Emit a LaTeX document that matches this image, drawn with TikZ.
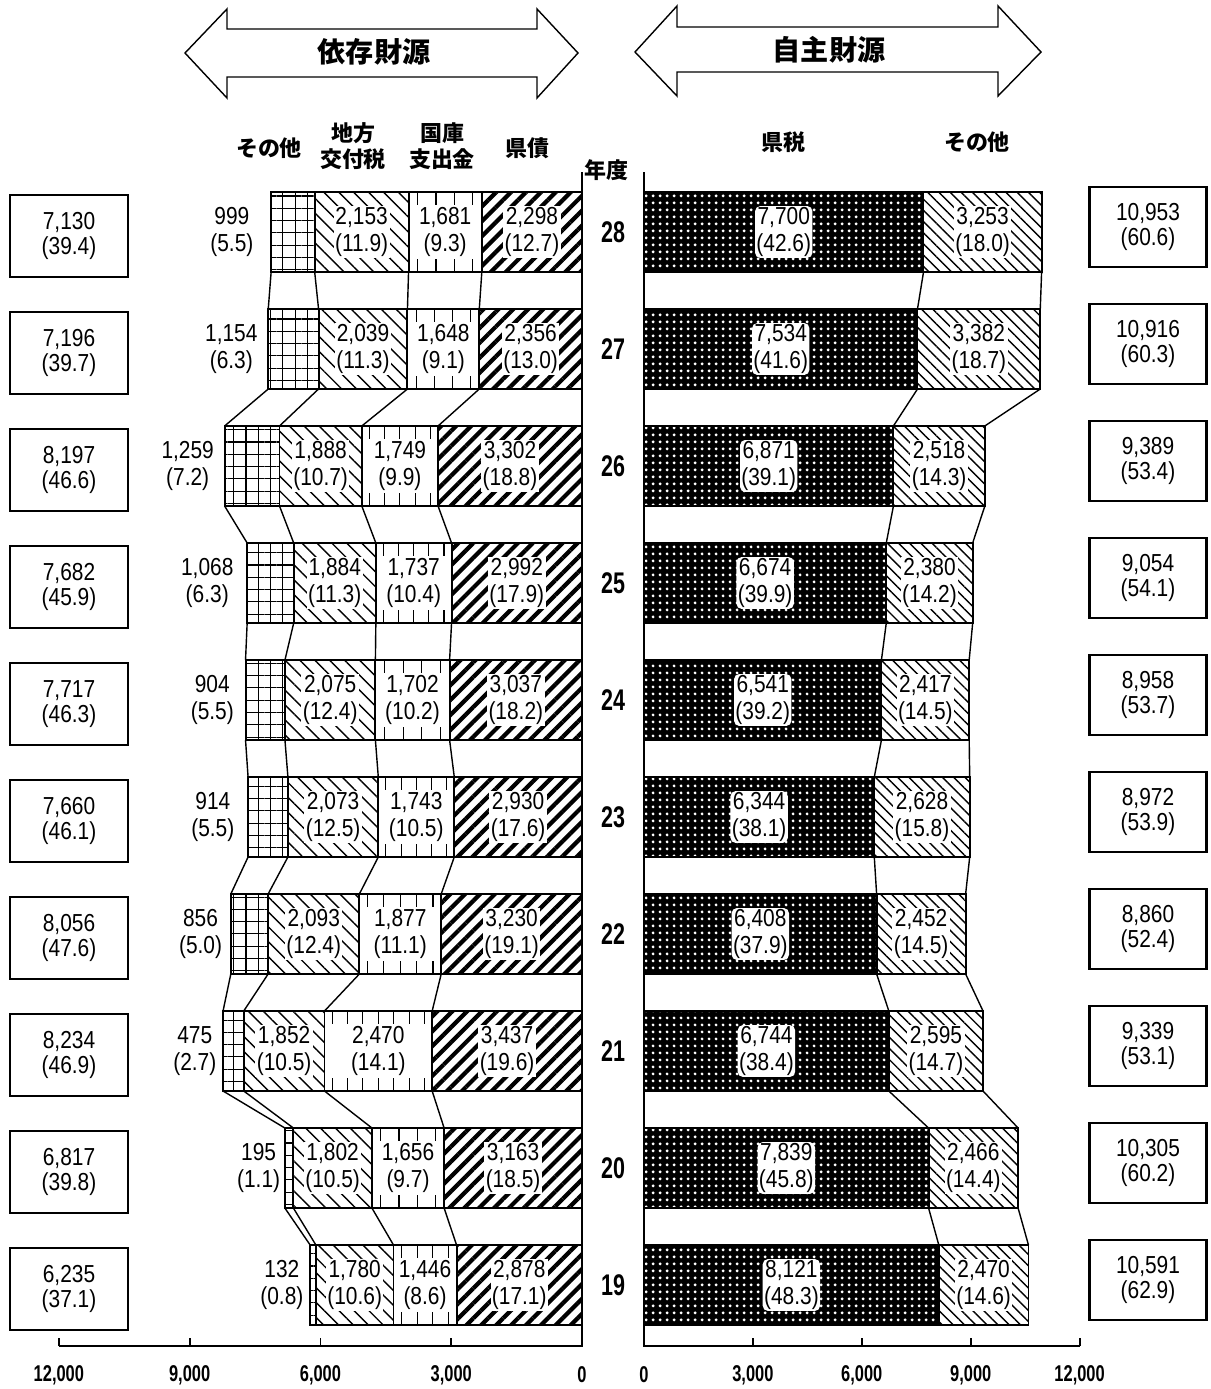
\documentclass[tikz,border=0pt]{standalone}
\usepackage{fontspec}
\setmainfont{Liberation Sans}[FakeStretch=0.85]
\newfontfamily\jp{Noto Sans CJK JP}
\newfontfamily\numfont{Liberation Sans}[FakeStretch=0.72]
\usetikzlibrary{calc}
\usetikzlibrary{patterns,patterns.meta}

\pgfkeys{/pgf/number format/.cd,1000 sep={,},assume math mode=true}
\newcommand\pct[1]{(\pgfmathprintnumber[fixed,fixed zerofill,precision=1]{#1})}
\newcommand\segfont{\fontsize{14}{15.3}\selectfont}
\newcommand\totfont{\fontsize{14}{14.5}\selectfont}

\tikzset{
  kensai/.style={pattern={Lines[angle=45,distance=6pt,line width=2.4pt]}},
  koufu/.style={pattern={Lines[angle=-45,distance=6pt,line width=0.8pt]}},
  sonota/.style={pattern={Hatch[angle=0,distance=7pt,line width=0.6pt]}},
  kenzei/.style={preaction={fill=black},pattern={Dots[distance=4pt,radius=1pt]},pattern color=white},
  jishu/.style={pattern={Lines[angle=-45,distance=4.5pt,line width=0.8pt]}},
  bar/.style={draw=black,line width=1.1pt},
  seg/.style={fill=white,inner sep=0.8pt,align=center,font=\segfont},
  totbox/.style={draw=black,line width=1.3pt,align=center,minimum width=2.36cm,minimum height=1.64cm,font=\totfont},
  joinline/.style={line width=0.8pt},
  colhead/.style={align=center,font=\jp\bfseries\fontsize{12.5}{15}\selectfont},
}

\def\lzero{582}
\def\rzero{644}
\def\lscale{0.0436}
\def\rscale{0.0363}

\begin{document}
\begin{tikzpicture}[x=0.02cm,y=-0.02cm]
\useasboundingbox (0,0) rectangle (1210,1389);

% headings
\draw[line width=0.8pt] (185,53) -- (227,9) -- (227,29) -- (537,29) -- (537,9) -- (578,53)
  -- (537,98) -- (537,77) -- (227,77) -- (227,98) -- cycle;
\node[font=\jp\bfseries\fontsize{16}{18}\selectfont] (izon) at (374,52) {依存財源};
\draw[line width=0.8pt] (635,52) -- (677,6) -- (677,27) -- (998,27) -- (998,6) -- (1041,52)
  -- (998,96) -- (998,72) -- (677,72) -- (677,96) -- cycle;
\node[font=\jp\bfseries\fontsize{16}{18}\selectfont] (jishu) at (829,50) {自主財源};

\node[colhead] (hsonota) at (269,148) {その他};
\node[colhead] (hkoufu) at (353,146) {地方\\交付税};
\node[colhead] (hkokko) at (442,146) {国庫\\支出金};
\node[colhead] (hkensai) at (527,148) {県債};
\node[colhead] (hnendo) at (606,170) {年度};
\node[colhead] (hkenzei) at (783,142) {県税};
\node[colhead] (hjishu) at (977,142) {その他};

% axes
\draw[line width=1pt] (\lzero,172) -- (\lzero,1346) -- ({\lzero-\lscale*12000},1346);
\draw[line width=1pt] (\rzero,172) -- (\rzero,1346) -- ({\rzero+\rscale*12000},1346);
\foreach \v in {0,3000,...,12000} {
  \draw[line width=1pt] ({\lzero-\lscale*\v},1346) -- ++(0,-8);
  \draw[line width=1pt] ({\rzero+\rscale*\v},1346) -- ++(0,-8);
  \node[font=\numfont\bfseries\fontsize{13}{15}\selectfont] (lx\v) at ({\lzero-\lscale*\v},1375) {\pgfmathprintnumber{\v}};
  \node[font=\numfont\bfseries\fontsize{13}{15}\selectfont] (rx\v) at ({\rzero+\rscale*\v},1375) {\pgfmathprintnumber{\v}};
}

% dependent revenue (left)
\foreach \i/\ot/\ko/\ku/\ke/\pot/\pko/\pku/\pke/\tot/\ptot/\lg in {
  0/999/2153/1681/2298/5.5/11.9/9.3/12.7/7130/39.4/16,
  1/1154/2039/1648/2356/6.3/11.3/9.1/13.0/7196/39.7/9,
  2/1259/1888/1749/3302/7.2/10.7/9.9/18.8/8197/46.6/9,
  3/1068/1884/1737/2992/6.3/11.3/10.4/17.9/7682/45.9/12,
  4/904/2075/1702/3037/5.5/12.4/10.2/18.2/7717/46.3/10,
  5/914/2073/1743/2930/5.5/12.5/10.5/17.6/7660/46.1/12,
  6/856/2093/1877/3230/5.0/12.4/11.1/19.1/8056/47.6/7,
  7/475/1852/2470/3437/2.7/10.5/14.1/19.6/8234/46.9/5,
  8/195/1802/1656/3163/1.1/10.5/9.7/18.5/6817/39.8/3,
  9/132/1780/1446/2878/0.8/10.6/8.6/17.1/6235/37.1/5} {
  \pgfmathsetmacro\yc{232+117*\i}
  \pgfmathsetmacro\yt{\yc-40}
  \pgfmathsetmacro\yb{\yc+40}
  \pgfmathsetmacro\xa{\lzero-\lscale*\ke}
  \pgfmathsetmacro\xb{\xa-\lscale*\ku}
  \pgfmathsetmacro\xc{\xb-\lscale*\ko}
  \pgfmathsetmacro\xd{\xc-\lscale*\ot}
  \draw[bar,kensai] (\lzero,\yt) rectangle (\xa,\yb);
  \draw[bar] (\xa,\yt) rectangle (\xb,\yb);
  \pgfmathtruncatemacro\nk{(\xa-\xb)/15}
  \foreach \k in {1,...,\nk} {
    \pgfmathsetmacro\xt{\xb+(\k-0.5)*(\xa-\xb)/\nk}
    \draw[line width=0.6pt] (\xt,\yt) -- ++(0,13) (\xt,\yb) -- ++(0,-13);
  }
  \draw[bar,koufu] (\xb,\yt) rectangle (\xc,\yb);
  \draw[bar,sonota] (\xc,\yt) rectangle (\xd,\yb);
  \coordinate (la-\i-t) at (\xa,\yt); \coordinate (la-\i-b) at (\xa,\yb);
  \coordinate (lb-\i-t) at (\xb,\yt); \coordinate (lb-\i-b) at (\xb,\yb);
  \coordinate (lc-\i-t) at (\xc,\yt); \coordinate (lc-\i-b) at (\xc,\yb);
  \coordinate (ld-\i-t) at (\xd,\yt); \coordinate (ld-\i-b) at (\xd,\yb);
  \node[seg] (ke\i) at ({(\lzero+\xa)/2},\yc) {\pgfmathprintnumber{\ke}\\\pct{\pke}};
  \node[seg] (ku\i) at ({(\xa+\xb)/2},\yc) {\pgfmathprintnumber{\ku}\\\pct{\pku}};
  \node[seg] (ko\i) at ({(\xb+\xc)/2},\yc) {\pgfmathprintnumber{\ko}\\\pct{\pko}};
  \node[seg,fill=none,anchor=east] (ot\i) at (\xd-\lg,\yc) {\pgfmathprintnumber{\ot}\\\pct{\pot}};
  \node[totbox] (lt\i) at (69,\yc+4) {\pgfmathprintnumber{\tot}\\\pct{\ptot}};
}

% own revenue (right)
\foreach \i/\yr/\zt/\so/\pzt/\pso/\tot/\ptot in {
  0/28/7700/3253/42.6/18.0/10953/60.6,
  1/27/7534/3382/41.6/18.7/10916/60.3,
  2/26/6871/2518/39.1/14.3/9389/53.4,
  3/25/6674/2380/39.9/14.2/9054/54.1,
  4/24/6541/2417/39.2/14.5/8958/53.7,
  5/23/6344/2628/38.1/15.8/8972/53.9,
  6/22/6408/2452/37.9/14.5/8860/52.4,
  7/21/6744/2595/38.4/14.7/9339/53.1,
  8/20/7839/2466/45.8/14.4/10305/60.2,
  9/19/8121/2470/48.3/14.6/10591/62.9} {
  \pgfmathsetmacro\yc{232+117*\i}
  \pgfmathsetmacro\yt{\yc-40}
  \pgfmathsetmacro\yb{\yc+40}
  \pgfmathsetmacro\xe{\rzero+\rscale*\zt}
  \pgfmathsetmacro\xf{\xe+\rscale*\so}
  \draw[bar,kenzei] (\rzero,\yt) rectangle (\xe,\yb);
  \draw[bar,jishu] (\xe,\yt) rectangle (\xf,\yb);
  \coordinate (ra-\i-t) at (\xe,\yt); \coordinate (ra-\i-b) at (\xe,\yb);
  \coordinate (rb-\i-t) at (\xf,\yt); \coordinate (rb-\i-b) at (\xf,\yb);
  \node[seg,rounded corners=3pt] (zt\i) at ({(\rzero+\xe)/2},\yc) {\pgfmathprintnumber{\zt}\\\pct{\pzt}};
  \node[seg] (so\i) at ({(\xe+\xf)/2},\yc) {\pgfmathprintnumber{\so}\\\pct{\pso}};
  \node[totbox,minimum width=2.34cm,minimum height=1.6cm] (rt\i) at (1148,\yc-5) {\pgfmathprintnumber{\tot}\\\pct{\ptot}};
  \node[font=\numfont\bfseries\fontsize{17}{19}\selectfont] (yr\i) at (613,\yc) {\yr};
}

% joins between years
\foreach \i [evaluate=\i as \j using int(\i+1)] in {0,...,8}
  \foreach \k in {la,lb,lc,ld,ra,rb}
    \draw[joinline] (\k-\i-b) -- (\k-\j-t);
\end{tikzpicture}
\end{document}
